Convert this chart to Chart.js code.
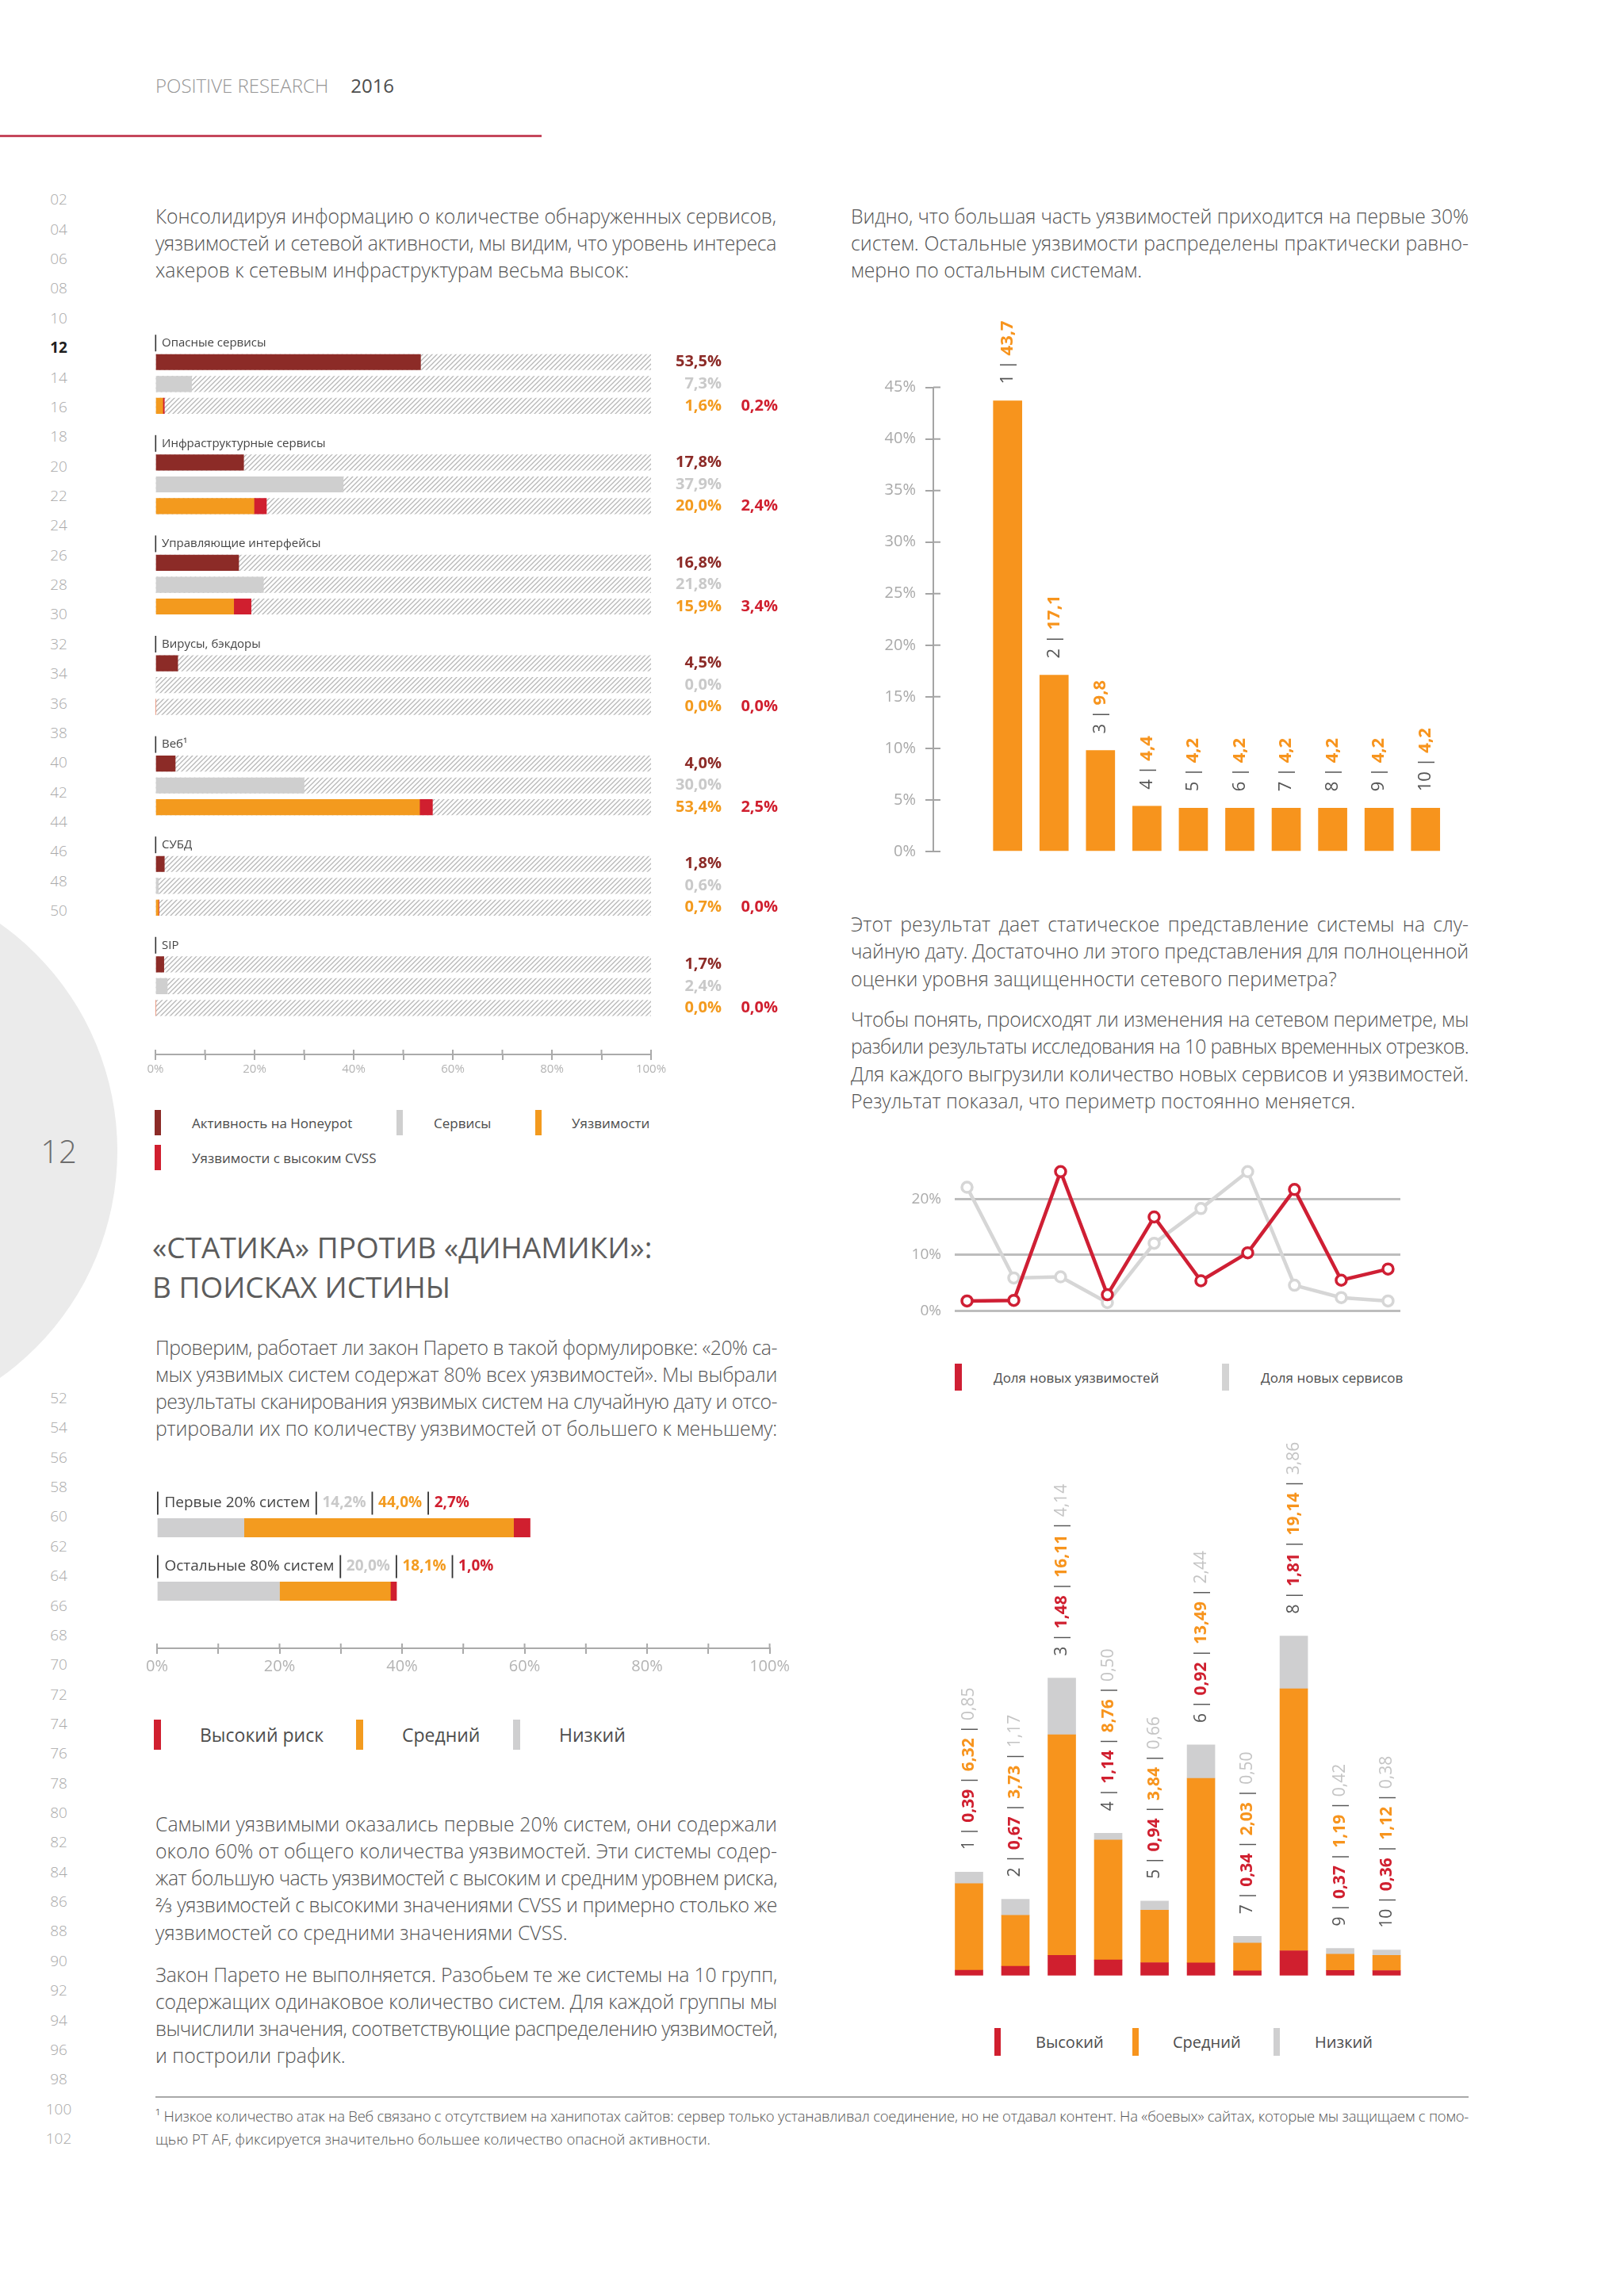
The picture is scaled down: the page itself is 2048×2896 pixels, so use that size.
<!DOCTYPE html>
<html lang="ru">
<head>
<meta charset="utf-8">
<title>Positive Research 2016 — стр. 12</title>
<script src="https://cdn.jsdelivr.net/npm/chart.js@4.4.1/dist/chart.umd.min.js"></script>
<style>
html,body{margin:0;padding:0;background:#fff;}
#page{position:relative;width:2048px;height:2896px;overflow:hidden;background:#fff;font-family:'Open Sans','Noto Sans',sans-serif;color:#505050;}
.abs{position:absolute;}
.para{position:absolute;font-weight:300;color:#555;}
.line{white-space:nowrap;}
.line span{display:inline-block;white-space:pre;}
.box{position:absolute;}
.mk{position:absolute;}
.lg{position:absolute;white-space:nowrap;transform:translateY(-50%);color:#4d4d4d;}
.ln{position:absolute;width:60px;left:44px;text-align:center;font-size:19px;color:#a9a9a9;font-weight:300;transform:translateY(-50%);}
</style>
</head>
<body>
<div id="page">
  <div class="abs" style="left:-555px;top:1100px;width:703px;height:703px;border-radius:50%;background:#ebebeb;"></div>
  <div class="abs" style="left:34px;top:1451px;width:80px;text-align:center;transform:translateY(-50%);font-size:40px;font-weight:300;color:#6d6d6d;">12</div>

  <div class="abs" style="left:196px;top:107px;transform:translateY(-50%);font-size:24px;font-weight:300;color:#959595;white-space:nowrap;">POSITIVE RESEARCH<span style="color:#4d4d4d;font-weight:400;margin-left:28px;">2016</span></div>
  <div class="abs" style="left:0;top:170px;width:683px;height:3px;background:#C5475B;"></div>

  <div class="abs" style="left:192px;top:1548px;font-size:37px;line-height:50px;font-weight:400;color:#5c5c5c;white-space:nowrap;">«СТАТИКА» ПРОТИВ «ДИНАМИКИ»:<br>В ПОИСКАХ ИСТИНЫ</div>

  <!-- chart 1 -->
  <div class="box" style="left:180px;top:380px;width:820px;height:990px;"><canvas id="c1"></canvas></div>
  <div class="mk" style="left:195px;top:1400px;width:8px;height:32px;background:#8C2B27;"></div>
  <div class="lg" style="left:242px;top:1416px;font-size:17px;">Активность на Honeypot</div>
  <div class="mk" style="left:500px;top:1400px;width:8px;height:32px;background:#CFCFCF;"></div>
  <div class="lg" style="left:547px;top:1416px;font-size:17px;">Сервисы</div>
  <div class="mk" style="left:675px;top:1400px;width:8px;height:32px;background:#F39A1E;"></div>
  <div class="lg" style="left:721px;top:1416px;font-size:17px;">Уязвимости</div>
  <div class="mk" style="left:195px;top:1444px;width:8px;height:32px;background:#D01F2F;"></div>
  <div class="lg" style="left:242px;top:1460px;font-size:17px;">Уязвимости с высоким CVSS</div>

  <!-- chart 2 -->
  <div class="box" style="left:1060px;top:380px;width:800px;height:718px;"><canvas id="c2"></canvas></div>

  <!-- chart 3 -->
  <div class="box" style="left:1100px;top:1440px;width:700px;height:242px;"><canvas id="c3"></canvas></div>
  <div class="mk" style="left:1204px;top:1720px;width:9px;height:34px;background:#CF1F34;"></div>
  <div class="lg" style="left:1253px;top:1737px;font-size:17px;">Доля новых уязвимостей</div>
  <div class="mk" style="left:1541px;top:1720px;width:9px;height:34px;background:#D3D3D3;"></div>
  <div class="lg" style="left:1590px;top:1737px;font-size:17px;">Доля новых сервисов</div>

  <!-- chart 4 -->
  <div class="box" style="left:180px;top:1860px;width:820px;height:259px;"><canvas id="c4"></canvas></div>
  <div class="mk" style="left:194px;top:2169px;width:9px;height:38px;background:#D01F2F;"></div>
  <div class="lg" style="left:252px;top:2188px;font-size:23px;">Высокий риск</div>
  <div class="mk" style="left:449px;top:2169px;width:9px;height:38px;background:#F39B1F;"></div>
  <div class="lg" style="left:507px;top:2188px;font-size:23px;">Средний</div>
  <div class="mk" style="left:647px;top:2169px;width:9px;height:38px;background:#CFCFD0;"></div>
  <div class="lg" style="left:705px;top:2188px;font-size:23px;">Низкий</div>

  <!-- chart 5 -->
  <div class="box" style="left:1150px;top:1790px;width:700px;height:722px;"><canvas id="c5"></canvas></div>
  <div class="mk" style="left:1254px;top:2558px;width:8px;height:35px;background:#D01F2F;"></div>
  <div class="lg" style="left:1306px;top:2575px;font-size:20px;">Высокий</div>
  <div class="mk" style="left:1428px;top:2558px;width:8px;height:35px;background:#F7941D;"></div>
  <div class="lg" style="left:1479px;top:2575px;font-size:20px;">Средний</div>
  <div class="mk" style="left:1606px;top:2558px;width:8px;height:35px;background:#CFCFD0;"></div>
  <div class="lg" style="left:1658px;top:2575px;font-size:20px;">Низкий</div>

  <div class="abs" style="left:196px;top:2644px;width:1656px;height:2px;background:#a9a9a9;"></div>
</div>

<script>
// ---------- DATA ----------
const hpCategories = ['Опасные сервисы','Инфраструктурные сервисы','Управляющие интерфейсы','Вирусы, бэкдоры','Веб¹','СУБД','SIP'];
const honeypotActivity = [53.5, 17.8, 16.8, 4.5, 4.0, 1.8, 1.7];
const servicesShare    = [7.3, 37.9, 21.8, 0.0, 30.0, 0.6, 2.4];
const vulnShare        = [1.6, 20.0, 15.9, 0.0, 53.4, 0.7, 0.0];
const highCvssShare    = [0.2, 2.4, 3.4, 0.0, 2.5, 0.0, 0.0];

const decileLabels     = [1,2,3,4,5,6,7,8,9,10];
const decileVulnShare  = [43.7, 17.1, 9.8, 4.4, 4.2, 4.2, 4.2, 4.2, 4.2, 4.2];

const periodLabels     = [1,2,3,4,5,6,7,8,9,10];
const newVulnShare     = [1.8, 1.9, 24.9, 2.9, 16.8, 5.4, 10.4, 21.7, 5.5, 7.5];
const newServiceShare  = [22.1, 5.9, 6.1, 1.5, 12.1, 18.3, 24.9, 4.6, 2.4, 1.8];

const paretoGroups     = ['Первые 20% систем','Остальные 80% систем'];
const paretoLow        = [14.2, 20.0];
const paretoMedium     = [44.0, 18.1];
const paretoHigh       = [2.7, 1.0];

const groupLabels      = ['1','2','3','4','5','6','7','8','9','10'];
const riskHigh         = [0.39, 0.67, 1.48, 1.14, 0.94, 0.92, 0.34, 1.81, 0.37, 0.36];
const riskMedium       = [6.32, 3.73, 16.11, 8.76, 3.84, 13.49, 2.03, 19.14, 1.19, 1.12];
const riskLow          = [0.85, 1.17, 4.14, 0.50, 0.66, 2.44, 0.50, 3.86, 0.42, 0.38];

// ---------- TEXT ----------
const BODY = 24.8;
const paragraphs = [
  {x:196, y:254.5, w:783, size:BODY, lh:34, lines:[
    'Консолидируя информацию о количестве обнаруженных сервисов,',
    'уязвимостей и сетевой активности, мы видим, что уровень интереса',
    'хакеров к сетевым инфраструктурам весьма высок:']},
  {x:1073, y:254.5, w:779, size:BODY, lh:34, lines:[
    'Видно, что большая часть уязвимостей приходится на первые 30%',
    'систем. Остальные уязвимости распределены практически равно-',
    'мерно по остальным системам.']},
  {x:1073, y:1147.6, w:779, size:BODY, lh:34.5, lines:[
    'Этот результат дает статическое представление системы на слу-',
    'чайную дату. Достаточно ли этого представления для полноценной',
    'оценки уровня защищенности сетевого периметра?']},
  {x:1073, y:1268, w:779, size:BODY, lh:34.3, lines:[
    'Чтобы понять, происходят ли изменения на сетевом периметре, мы',
    'разбили результаты исследования на 10 равных временных отрезков.',
    'Для каждого выгрузили количество новых сервисов и уязвимостей.',
    'Результат показал, что периметр постоянно меняется.']},
  {x:196, y:1682, w:784, size:BODY, lh:34, lines:[
    'Проверим, работает ли закон Парето в такой формулировке: «20% са-',
    'мых уязвимых систем содержат 80% всех уязвимостей». Мы выбрали',
    'результаты сканирования уязвимых систем на случайную дату и отсо-',
    'ртировали их по количеству уязвимостей от большего к меньшему:']},
  {x:196, y:2282.5, w:784, size:BODY, lh:34.3, lines:[
    'Самыми уязвимыми оказались первые 20% систем, они содержали',
    'около 60% от общего количества уязвимостей. Эти системы содер-',
    'жат большую часть уязвимостей с высоким и средним уровнем риска,',
    '⅔ уязвимостей с высокими значениями CVSS и примерно столько же',
    'уязвимостей со средними значениями CVSS.']},
  {x:196, y:2472.5, w:784, size:BODY, lh:34, lines:[
    'Закон Парето не выполняется. Разобьем те же системы на 10 групп,',
    'содержащих одинаковое количество систем. Для каждой группы мы',
    'вычислили значения, соответствующие распределению уязвимостей,',
    'и построили график.']},
  {x:196, y:2653.5, w:1656, size:18.5, lh:29, lines:[
    '¹ Низкое количество атак на Веб связано с отсутствием на ханипотах сайтов: сервер только устанавливал соединение, но не отдавал контент. На «боевых» сайтах, которые мы защищаем с помо-',
    'щью PT AF, фиксируется значительно большее количество опасной активности.']}
];

const page = document.getElementById('page');
paragraphs.forEach(p => {
  const d = document.createElement('div');
  d.className = 'para';
  d.style.left = p.x + 'px'; d.style.top = p.y + 'px'; d.style.width = p.w + 'px';
  d.style.fontSize = p.size + 'px'; d.style.lineHeight = p.lh + 'px';
  p.lines.forEach((t, i) => {
    const l = document.createElement('div');
    l.className = 'line' + (i === p.lines.length - 1 ? ' last' : '');
    const s = document.createElement('span'); s.textContent = t;
    l.appendChild(s); d.appendChild(l);
  });
  page.appendChild(d);
});
function fitLines() {
  document.querySelectorAll('.line').forEach(el => {
    const target = parseFloat(el.parentElement.style.width);
    const span = el.firstChild;
    span.style.wordSpacing = '0px'; span.style.letterSpacing = '0px';
    const w = span.getBoundingClientRect().width;
    const txt = span.textContent;
    const spaces = (txt.match(/ /g) || []).length;
    const last = el.classList.contains('last');
    if (w > target) {
      span.style.letterSpacing = ((target - w) / txt.length) + 'px';
    } else if (!last && spaces) {
      span.style.wordSpacing = ((target - w) / spaces) + 'px';
    }
  });
}
// line numbers
for (let n = 2; n <= 102; n += 2) {
  if (n > 50 && n < 52) continue;
  const y = n <= 50 ? 251.4 + (n / 2 - 1) * 37.36 : 1763 + (n / 2 - 26) * 37.36;
  const d = document.createElement('div');
  d.className = 'ln';
  d.style.top = y + 'px';
  d.textContent = (n < 10 ? '0' : '') + n;
  if (n === 12) { d.style.color = '#1e1e1e'; d.style.fontWeight = '700'; }
  page.appendChild(d);
}

// ---------- CHARTS ----------
const FONT = "'Open Sans', 'Noto Sans', sans-serif";
Chart.defaults.font.family = FONT;
Chart.defaults.animation = false;
Chart.defaults.events = [];
Chart.defaults.plugins.legend.display = false;
Chart.defaults.plugins.tooltip.enabled = false;

const fmt = (v, d) => v.toFixed(d).replace('.', ',');

function innerTicks(chart, id, len, color, w) {
  const s = chart.scales[id], ctx = chart.ctx;
  ctx.save(); ctx.strokeStyle = color; ctx.lineWidth = w; ctx.beginPath();
  s.ticks.forEach(t => {
    const p = s.getPixelForValue(t.value);
    if (s.isHorizontal()) { ctx.moveTo(p, s.top); ctx.lineTo(p, s.top - len); }
    else { ctx.moveTo(s.right, p); ctx.lineTo(s.right + len, p); }
  });
  ctx.stroke(); ctx.restore();
}

function drawRun(ctx, parts, x, y) {
  let cx = x;
  parts.forEach(p => {
    ctx.font = p.font; ctx.fillStyle = p.color;
    ctx.fillText(p.text, cx, y);
    cx += ctx.measureText(p.text).width;
  });
  return cx;
}

// Chart 1: honeypot / services / vulnerabilities
(function () {
  const cv = document.getElementById('c1');
  const tile = document.createElement('canvas'); tile.width = 6; tile.height = 6;
  const tc = tile.getContext('2d');
  tc.strokeStyle = '#b7b7b7'; tc.lineWidth = 1.3; tc.beginPath();
  tc.moveTo(-1, 7); tc.lineTo(7, -1); tc.moveTo(-1, 1); tc.lineTo(1, -1); tc.moveTo(5, 7); tc.lineTo(7, 5);
  tc.stroke();
  const hatch = cv.getContext('2d').createPattern(tile, 'repeat');
  const ROW = [0.19, 0.408, 0.625];
  const bg = [];
  hpCategories.forEach((_, g) => ROW.forEach(r => bg.push({x: 100, y: g + r})));
  const common = {barThickness: 19.5, grouped: false, borderWidth: 0};
  new Chart(cv, {
    type: 'bar',
    data: {datasets: [
      Object.assign({label: 'Активность на Honeypot', data: honeypotActivity.map((v, g) => ({x: v, y: g + ROW[0]})), backgroundColor: '#8C2B27', order: 1}, common),
      Object.assign({label: 'Сервисы', data: servicesShare.map((v, g) => ({x: v, y: g + ROW[1]})), backgroundColor: '#CFCFCF', order: 1}, common),
      Object.assign({label: 'Уязвимости с высоким CVSS', data: highCvssShare.map((v, g) => ({x: [vulnShare[g], vulnShare[g] + v], y: g + ROW[2]})), backgroundColor: '#D01F2F', order: 1}, common),
      Object.assign({label: 'Уязвимости', data: vulnShare.map((v, g) => ({x: v, y: g + ROW[2]})), backgroundColor: '#F39A1E', order: 1}, common),
      Object.assign({label: 'bg', data: bg, backgroundColor: hatch, order: 5}, common)
    ]},
    options: {
      indexAxis: 'y', responsive: true, maintainAspectRatio: false,
      layout: {padding: {top: 27.4, left: 16, right: 179, bottom: 0}},
      scales: {
        y: {type: 'linear', min: -0.2, max: 7.088, reverse: true, display: false, offset: false},
        x: {type: 'linear', min: 0, max: 100,
            ticks: {stepSize: 10, autoSkip: false, maxRotation: 0, color: '#b3b3b3', font: {size: 15}, padding: 3,
                    callback: v => v % 20 === 0 ? v + '%' : ''},
            grid: {drawOnChartArea: false, color: '#aaaaaa', lineWidth: 2, tickLength: 7},
            border: {color: '#aaaaaa', width: 2},
            afterFit: s => { s.height = 40; }}
      }
    },
    plugins: [{id: 'lbl1', afterDraw(chart) {
      const {ctx, chartArea, scales: {x, y}} = chart;
      innerTicks(chart, 'x', 6, '#aaaaaa', 2);
      const right = x.getPixelForValue(100);
      ctx.save(); ctx.textBaseline = 'middle';
      hpCategories.forEach((name, g) => {
        const yl = y.getPixelForValue(g);
        ctx.fillStyle = '#333'; ctx.fillRect(chartArea.left - 0.5, yl - 10.5, 1.6, 21);
        ctx.textAlign = 'left'; ctx.font = '15px ' + FONT; ctx.fillStyle = '#444';
        ctx.fillText(name, chartArea.left + 8, yl);
        const rows = [[honeypotActivity[g], '#8C2B27'], [servicesShare[g], '#C9C9C9'], [vulnShare[g], '#F39A1E']];
        ctx.textAlign = 'right'; ctx.font = 'bold 20px ' + FONT;
        rows.forEach(([v, c], r) => {
          ctx.fillStyle = c;
          ctx.fillText(fmt(v, 1) + '%', right + 89, y.getPixelForValue(g + ROW[r]));
        });
        ctx.fillStyle = '#D01F2F';
        ctx.fillText(fmt(highCvssShare[g], 1) + '%', right + 160, y.getPixelForValue(g + ROW[2]));
      });
      ctx.restore();
    }}]
  });
})();

// Chart 2: share of vulnerabilities per decile
new Chart(document.getElementById('c2'), {
  type: 'bar',
  data: {datasets: [{label: 'Доля уязвимостей', data: decileVulnShare.map((v, i) => ({x: decileLabels[i], y: v})),
    backgroundColor: '#F7941D', barThickness: 36, grouped: false, borderWidth: 0}]},
  options: {
    responsive: true, maintainAspectRatio: false,
    layout: {padding: {top: 108.6, bottom: 20.4, right: 33, left: 0}},
    scales: {
      x: {type: 'linear', min: -0.6, max: 10.5, display: false, offset: false},
      y: {min: 0, max: 45,
          ticks: {stepSize: 5, color: '#a9a9a9', font: {size: 20}, padding: 12, callback: v => v + '%'},
          grid: {drawOnChartArea: false, color: '#a5a5a5', lineWidth: 2, tickLength: 10},
          border: {color: '#a5a5a5', width: 2},
          afterFit: s => { s.width = 117; }}
    }
  },
  plugins: [{id: 'lbl2', afterDraw(chart) {
    const ctx = chart.ctx;
    innerTicks(chart, 'y', 9, '#a5a5a5', 2);
    const meta = chart.getDatasetMeta(0);
    ctx.save(); ctx.textBaseline = 'middle'; ctx.textAlign = 'left';
    meta.data.forEach((el, i) => {
      ctx.save();
      ctx.translate(el.x, el.y - 21); ctx.rotate(-Math.PI / 2);
      drawRun(ctx, [
        {text: decileLabels[i] + ' | ', font: '22px ' + FONT, color: '#555'},
        {text: fmt(decileVulnShare[i], 1), font: 'bold 22px ' + FONT, color: '#F7941D'}
      ], 0, 0);
      ctx.restore();
    });
    ctx.restore();
  }}]
});

// Chart 3: dynamics
new Chart(document.getElementById('c3'), {
  type: 'line',
  data: {datasets: [
    {label: 'Доля новых уязвимостей', data: newVulnShare.map((v, i) => ({x: periodLabels[i], y: v})),
     borderColor: '#CF1F34', borderWidth: 4.5, pointRadius: 6.5, pointBorderWidth: 3.5,
     pointBackgroundColor: '#fff', pointBorderColor: '#CF1F34', clip: false, tension: 0},
    {label: 'Доля новых сервисов', data: newServiceShare.map((v, i) => ({x: periodLabels[i], y: v})),
     borderColor: '#D6D6D6', borderWidth: 4.5, pointRadius: 6.5, pointBorderWidth: 3.5,
     pointBackgroundColor: '#fff', pointBorderColor: '#D6D6D6', clip: false, tension: 0}
  ]},
  options: {
    responsive: true, maintainAspectRatio: false,
    layout: {padding: {top: 30, bottom: 21, right: 34, left: 0}},
    scales: {
      x: {type: 'linear', min: 0.737, max: 10.264, display: false},
      y: {min: 0, max: 26,
          ticks: {stepSize: 10, includeBounds: false, color: '#ababab', font: {size: 19}, padding: 17, callback: v => v + '%'},
          grid: {color: '#bdbdbd', lineWidth: 3, drawTicks: false},
          border: {display: false},
          afterFit: s => { s.width = 104; }}
    }
  }
});

// Chart 4: Pareto
new Chart(document.getElementById('c4'), {
  type: 'bar',
  data: {datasets: [
    {label: 'Низкий', data: paretoLow.map((v, i) => ({x: v, y: i})), backgroundColor: '#CFCFD0'},
    {label: 'Средний', data: paretoMedium.map((v, i) => ({x: v, y: i})), backgroundColor: '#F39B1F'},
    {label: 'Высокий риск', data: paretoHigh.map((v, i) => ({x: v, y: i})), backgroundColor: '#D01F2F'}
  ].map(d => Object.assign(d, {barThickness: 23.5, borderWidth: 0}))},
  options: {
    indexAxis: 'y', responsive: true, maintainAspectRatio: false,
    layout: {padding: {top: 19, left: 14.5, right: 24.5, bottom: 0}},
    scales: {
      y: {type: 'linear', min: -0.6, max: 1.9, reverse: true, display: false, stacked: true, offset: false},
      x: {type: 'linear', min: 0, max: 100, stacked: true,
          ticks: {stepSize: 10, autoSkip: false, maxRotation: 0, color: '#b3b3b3', font: {size: 20}, padding: 4,
                  callback: v => v % 20 === 0 ? v + '%' : ''},
          grid: {drawOnChartArea: false, color: '#aaaaaa', lineWidth: 2, tickLength: 7},
          border: {color: '#aaaaaa', width: 2},
          afterFit: s => { s.height = 40; }}
    }
  },
  plugins: [{id: 'lbl4', afterDraw(chart) {
    const {ctx, chartArea, scales: {y}} = chart;
    innerTicks(chart, 'x', 6, '#aaaaaa', 2);
    ctx.save(); ctx.textBaseline = 'middle'; ctx.textAlign = 'left';
    paretoGroups.forEach((name, i) => {
      const yl = y.getPixelForValue(i) - 31;
      const bar = xx => { ctx.fillStyle = '#333'; ctx.fillRect(xx, yl - 14.5, 1.8, 29); };
      let cx = chartArea.left;
      bar(cx); cx += 9.5;
      const parts = [
        {text: name, font: '19px ' + FONT, color: '#444'},
        {text: fmt(paretoLow[i], 1) + '%', font: 'bold 19px ' + FONT, color: '#C9C9C9'},
        {text: fmt(paretoMedium[i], 1) + '%', font: 'bold 19px ' + FONT, color: '#F39B1F'},
        {text: fmt(paretoHigh[i], 1) + '%', font: 'bold 19px ' + FONT, color: '#D01F2F'}
      ];
      parts.forEach((p, k) => {
        cx = drawRun(ctx, [p], cx, yl);
        if (k < parts.length - 1) { cx += 7; bar(cx); cx += 8.5; }
      });
    });
    ctx.restore();
  }}]
});

// Chart 5: risk levels per group
new Chart(document.getElementById('c5'), {
  type: 'bar',
  data: {labels: groupLabels, datasets: [
    {label: 'Высокий', data: riskHigh, backgroundColor: '#D01F2F'},
    {label: 'Средний', data: riskMedium, backgroundColor: '#F7941D'},
    {label: 'Низкий', data: riskLow, backgroundColor: '#CFCFD0'}
  ].map(d => Object.assign(d, {barThickness: 35, borderWidth: 0}))},
  options: {
    responsive: true, maintainAspectRatio: false,
    layout: {padding: {top: 270.25, bottom: 20.25, left: 42.75, right: 72.15}},
    scales: {
      x: {stacked: true, display: false},
      y: {stacked: true, min: 0, max: 25, display: false}
    }
  },
  plugins: [{id: 'lbl5', afterDraw(chart) {
    const ctx = chart.ctx;
    const top = chart.getDatasetMeta(2).data;
    ctx.save(); ctx.textBaseline = 'middle'; ctx.textAlign = 'left';
    top.forEach((el, i) => {
      ctx.save();
      ctx.translate(el.x, el.y - 28); ctx.rotate(-Math.PI / 2);
      drawRun(ctx, [
        {text: groupLabels[i] + ' | ', font: '21px ' + FONT, color: '#555'},
        {text: fmt(riskHigh[i], 2), font: 'bold 21px ' + FONT, color: '#D01F2F'},
        {text: ' | ', font: '21px ' + FONT, color: '#555'},
        {text: fmt(riskMedium[i], 2), font: 'bold 21px ' + FONT, color: '#F7941D'},
        {text: ' | ', font: '21px ' + FONT, color: '#555'},
        {text: fmt(riskLow[i], 2), font: '21px ' + FONT, color: '#C4C4C4'}
      ], 0, 0);
      ctx.restore();
    });
    ctx.restore();
  }}]
});

fitLines();
if (document.fonts && document.fonts.ready) document.fonts.ready.then(fitLines);
</script>
</body>
</html>
